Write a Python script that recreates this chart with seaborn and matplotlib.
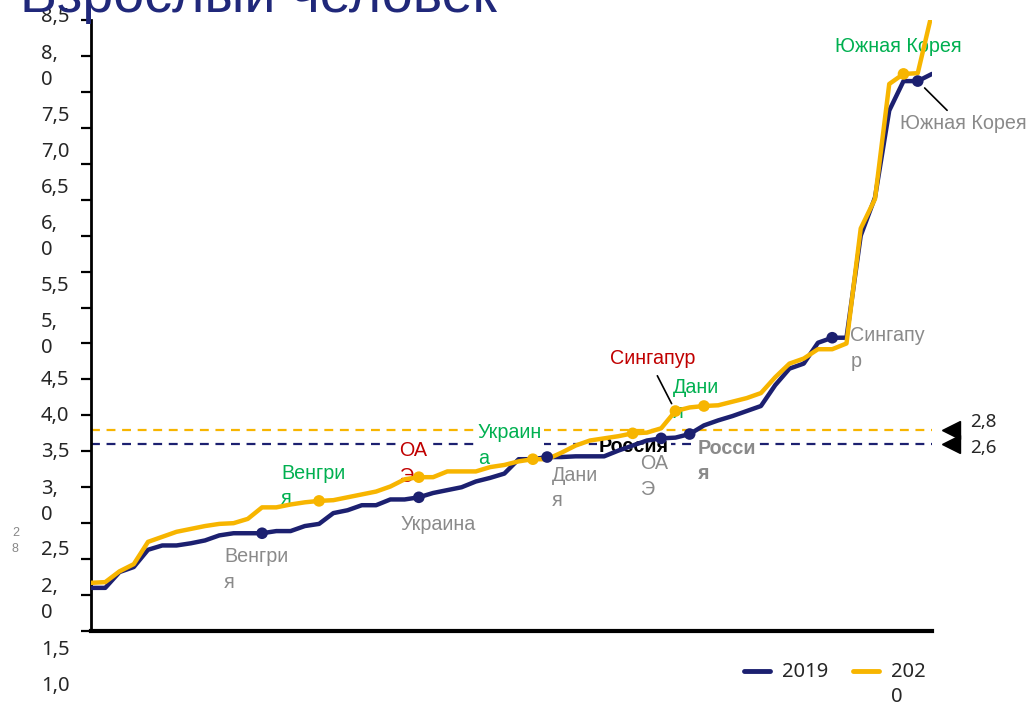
import numpy as np
import pandas as pd
import matplotlib
matplotlib.use("Agg")
import matplotlib.pyplot as plt
import matplotlib.transforms as mtransforms
import seaborn as sns

# ---------------- data ----------------
years = ["2019", "2020"]
values_2019 = [0.60, 0.60, 0.82, 0.89, 1.13, 1.19, 1.19, 1.22, 1.26, 1.33,
               1.36, 1.36, 1.36, 1.39, 1.39, 1.46, 1.49, 1.64, 1.68, 1.75,
               1.75, 1.83, 1.83, 1.86, 1.92, 1.96, 2.00, 2.08, 2.13, 2.19,
               2.39, 2.39, 2.42, 2.42, 2.43, 2.43, 2.43, 2.51, 2.58, 2.65,
               2.68, 2.69, 2.74, 2.86, 2.93, 2.99, 3.06, 3.13, 3.42, 3.65,
               3.72, 4.01, 4.08, 4.08, 5.50, 6.03, 7.24, 7.65, 7.65, 7.75]
values_2020 = [0.67, 0.68, 0.83, 0.93, 1.24, 1.31, 1.38, 1.42, 1.46, 1.49,
               1.50, 1.56, 1.72, 1.72, 1.76, 1.79, 1.81, 1.82, 1.86, 1.90,
               1.94, 2.01, 2.11, 2.14, 2.14, 2.22, 2.22, 2.22, 2.28, 2.31,
               2.36, 2.39, 2.39, 2.48, 2.58, 2.65, 2.68, 2.71, 2.75, 2.76,
               2.82, 3.06, 3.11, 3.13, 3.14, 3.19, 3.24, 3.31, 3.53, 3.72,
               3.79, 3.92, 3.92, 4.00, 5.60, 6.01, 7.61, 7.75, 7.76, 8.60]
means = {"2019": 2.6, "2020": 2.8}
mean_labels = {"2019": "2,6", "2020": "2,8"}

countries = ["Венгрия", "Украина", "Дания", "ОАЭ", "Россия", "Сингапур", "Южная Корея"]
rank_2019 = [12, 23, 32, 40, 42, 52, 58]
rank_2020 = [16, 31, 43, 23, 38, 41, 57]
label_2019 = ["Венгри\nя", "Украина", "Дани\nя", "ОА\nЭ", "Росси\nя", "Сингапу\nр", "Южная Корея"]
label_2020 = ["Венгри\nя", "Украин\nа", "Дани\nя", "ОА\nЭ", "Россия", "Сингапур", "Южная Корея"]

ytick_values = [0.0, 0.5, 1.0, 1.5, 2.0, 2.5, 3.0, 3.5, 4.0, 4.5, 5.0, 5.5, 6.0, 6.5, 7.0, 7.5, 8.0, 8.5]
ytick_texts = ["8,5", "8,\n0", "7,5", "7,0", "6,5", "6,\n0", "5,5", "5,\n0",
               "4,5", "4,0", "3,5", "3,\n0", "2,5", "2,\n0", "1,5", "1,0"]
legend_texts = ["2019\n", "202\n0"]

title = "Взрослый человек"

# ---------------- styles / layout ----------------
NAVY = "#1c2070"
GOLD = "#f7b500"
GREEN = "#00b050"
RED = "#c00000"
GRAY = "#8a8a8a"
palette = {"2019": NAVY, "2020": GOLD}

colors_2020 = [GREEN, GREEN, GREEN, RED, "black", RED, GREEN]
weights_2020 = ["normal", "normal", "normal", "normal", "bold", "normal", "normal"]
weights_2019 = ["normal", "normal", "normal", "normal", "bold", "normal", "normal"]
offs_2019 = [(-38, -36), (-18, -27), (5, -31), (-21, -38), (8, -27), (18, -11), (-18, -42)]
offs_2020 = [(-38, 15), (-55, 14), (-31, 6), (-20, 14), (-34, -13), (-65, 53), (-68, 27)]
box_2019 = [False, False, False, False, True, False, False]
box_2020 = [False, True, False, True, True, False, False]
ytick_text_px = [17, 67, 116, 152, 188, 237, 286, 335, 380, 416, 452, 502, 550, 600, 650, 686]

sns.set_style("white")
plt.rcParams["font.family"] = ["Liberation Sans", "DejaVu Sans"]

W, H = 1034, 704
fig = plt.figure(figsize=(W / 100, H / 100), dpi=100)
ax = fig.add_axes([91 / W, 1 - 631 / H, (932 - 91) / W, (631 - 20) / H])

n = len(values_2019)
df = pd.DataFrame({
    "rank": list(range(n)) * 2,
    "value": values_2019 + values_2020,
    "year": ["2019"] * n + ["2020"] * n,
})
sns.lineplot(data=df, x="rank", y="value", hue="year", palette=palette,
             linewidth=3.2, ax=ax, zorder=4)

hl = pd.DataFrame({
    "rank": rank_2019 + rank_2020,
    "value": [values_2019[r] for r in rank_2019] + [values_2020[r] for r in rank_2020],
    "year": ["2019"] * len(rank_2019) + ["2020"] * len(rank_2020),
})
sns.scatterplot(data=hl, x="rank", y="value", hue="year", palette=palette,
                s=70, edgecolor="none", legend=False, ax=ax, zorder=5)

# mean lines with triangles & labels
blend = mtransforms.blended_transform_factory(ax.transAxes, ax.transData)
for yr, dy in (("2019", -4), ("2020", 8)):
    ax.axhline(means[yr], color=palette[yr], ls=(0, (4, 3)), lw=1.6, zorder=1)
    ax.plot([1.0226], [means[yr]], marker="<", ms=13.5, color="black",
            transform=blend, clip_on=False, zorder=6)
    ax.annotate(mean_labels[yr], xy=(1.0226, means[yr]), xycoords=blend,
                xytext=(19, dy), textcoords="offset pixels", ha="left", va="center",
                fontsize=13.5, family=["Noto Sans", "DejaVu Sans"], annotation_clip=False)

# country labels
for i, c in enumerate(countries):
    r = rank_2019[i]
    kw = dict(bbox=dict(boxstyle="square,pad=0.1", fc="white", ec="none")) if box_2019[i] else {}
    arrow = {}
    if c == "Южная Корея":
        arrow = dict(arrowprops=dict(arrowstyle="-", color="black", lw=1.2,
                                     shrinkA=0, shrinkB=7, relpos=(0.4, 1.0)))
    ax.annotate(label_2019[i], xy=(r, values_2019[r]), xytext=offs_2019[i],
                textcoords="offset pixels", ha="left", va="center", fontsize=14.2,
                color=GRAY, fontweight=weights_2019[i], linespacing=1.45,
                zorder=3.5, annotation_clip=False, **kw, **arrow)
for i, c in enumerate(countries):
    r = rank_2020[i]
    kw = dict(bbox=dict(boxstyle="square,pad=0.1", fc="white", ec="none")) if box_2020[i] else {}
    arrow = {}
    if c == "Сингапур":
        arrow = dict(arrowprops=dict(arrowstyle="-", color="black", lw=1.2,
                                     shrinkA=4, shrinkB=6, relpos=(0.5, 0.0)))
    ax.annotate(label_2020[i], xy=(r, values_2020[r]), xytext=offs_2020[i],
                textcoords="offset pixels", ha="left", va="center", fontsize=14.2,
                color=colors_2020[i], fontweight=weights_2020[i], linespacing=1.45,
                zorder=3, annotation_clip=False, **kw, **arrow)

# axes styling
ax.set_xlim(0, n - 1)
ax.set_ylim(0, 8.5)
ax.set_xticks([])
ax.set_yticks(ytick_values)
ax.set_yticklabels([])
ax.tick_params(axis="y", direction="out", length=7, width=1.6, color="black", left=True)
for s in ("top", "right"):
    ax.spines[s].set_visible(False)
ax.spines["left"].set_linewidth(2)
ax.spines["left"].set_color("black")
ax.spines["bottom"].set_linewidth(3)
ax.spines["bottom"].set_color("black")
ax.set_xlabel("")
ax.set_ylabel("")

# misplaced y tick labels as in reference
for t, ypx in zip(ytick_texts, ytick_text_px):
    fig.text(41 / W, 1 - ypx / H, t, ha="left", va="center", fontsize=14.5,
             family=["Noto Sans", "DejaVu Sans"], linespacing=1.45)
fig.text(12 / W, 1 - 541 / H, "2\n8", ha="left", va="center", fontsize=9,
         color="#888888", linespacing=1.45)

# title (cut at top)
fig.text(20 / W, 1 - 12 / H, title, ha="left", va="baseline", fontsize=40, color="#20287a")

# legend
leg = ax.legend(loc="upper left", bbox_to_anchor=(744 / W, 1 - 662 / H),
                bbox_transform=fig.transFigure, ncol=2, frameon=False,
                borderpad=0, borderaxespad=0, handlelength=1.3, handletextpad=0.6,
                columnspacing=1.2, prop={"family": ["Noto Sans", "DejaVu Sans"], "size": 14.5})
for line in leg.get_lines():
    line.set_linewidth(3.5)
    line.set_ydata(np.asarray(line.get_ydata(), dtype=float) + 10)
for txt, s in zip(leg.get_texts(), legend_texts):
    txt.set_text(s)
    txt.set_linespacing(1.3)

fig.savefig("out.png", dpi=100)
